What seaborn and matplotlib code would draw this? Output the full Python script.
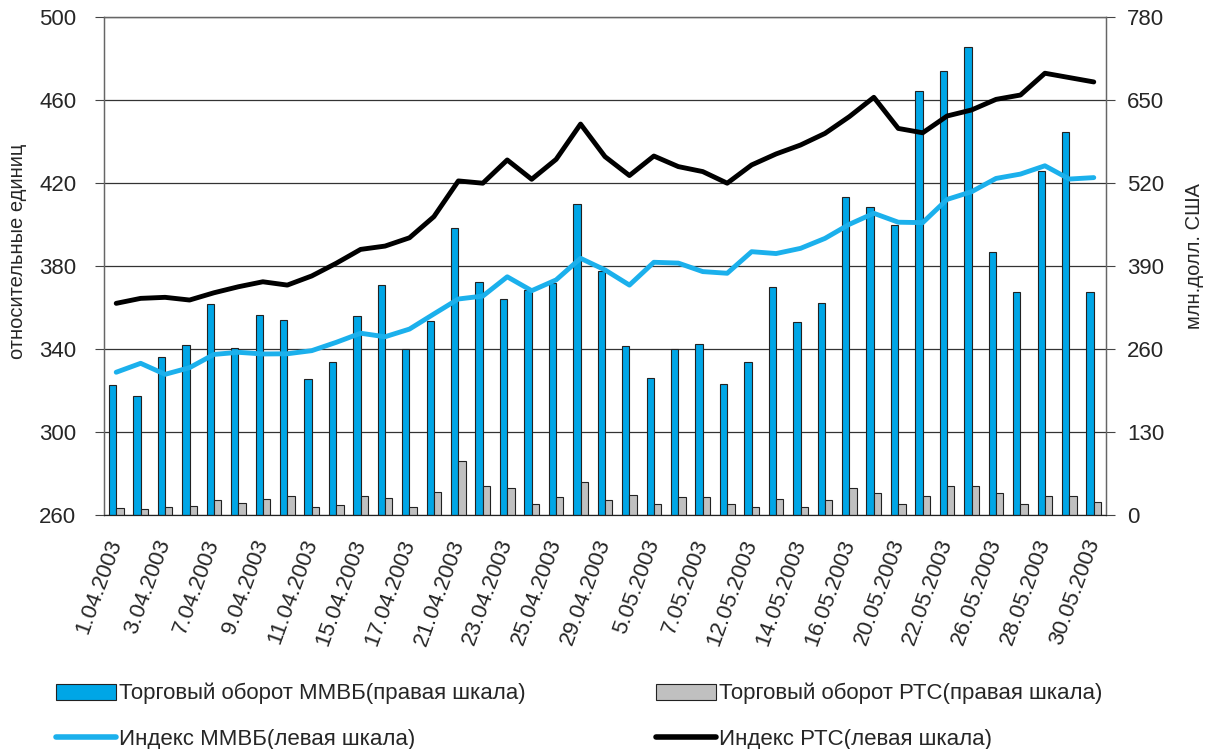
import numpy as np
import pandas as pd
import matplotlib
matplotlib.use("Agg")
import matplotlib.pyplot as plt
import seaborn as sns
from matplotlib.patches import Patch
from matplotlib.lines import Line2D

# trading days, April-May 2003
dates = ["1.04.2003", "2.04.2003", "3.04.2003", "4.04.2003", "7.04.2003", "8.04.2003",
         "9.04.2003", "10.04.2003", "11.04.2003", "14.04.2003", "15.04.2003", "16.04.2003",
         "17.04.2003", "18.04.2003", "21.04.2003", "22.04.2003", "23.04.2003", "24.04.2003",
         "25.04.2003", "28.04.2003", "29.04.2003", "30.04.2003", "5.05.2003", "6.05.2003",
         "7.05.2003", "8.05.2003", "12.05.2003", "13.05.2003", "14.05.2003", "15.05.2003",
         "16.05.2003", "19.05.2003", "20.05.2003", "21.05.2003", "22.05.2003", "23.05.2003",
         "26.05.2003", "27.05.2003", "28.05.2003", "29.05.2003", "30.05.2003"]

# turnover, mln USD (right scale)
micex_turnover = [203, 186, 248, 267, 331, 262, 314, 306, 213, 240, 312, 361, 260, 304,
                  449, 365, 338, 352, 363, 487, 382, 265, 215, 260, 268, 205, 240, 357,
                  302, 332, 498, 482, 454, 664, 695, 733, 412, 349, 539, 600, 349]
rts_turnover = [11, 10, 12, 14, 23, 19, 25, 30, 12, 16, 30, 27, 12, 36,
                84, 45, 42, 18, 28, 51, 24, 31, 17, 28, 28, 17, 13, 25,
                12, 24, 43, 34, 17, 29, 46, 45, 34, 17, 29, 29, 20]

# indices, relative units (left scale)
micex_index = [328.8, 333.1, 327.8, 331.0, 337.4, 338.4, 337.6, 337.7, 339.2, 343.2, 347.6,
               345.9, 349.6, 356.9, 364.1, 365.5, 374.8, 368.1, 373.3, 383.7, 378.1, 370.8,
               381.8, 381.4, 377.3, 376.5, 386.9, 386.0, 388.5, 393.3, 400.1, 405.4, 401.1,
               400.9, 412.1, 415.8, 422.2, 424.3, 428.3, 421.9, 422.6]
rts_index = [362.0, 364.4, 364.9, 363.6, 367.1, 370.0, 372.4, 370.8, 375.2, 381.3, 388.0,
             389.6, 393.6, 403.8, 421.0, 419.9, 431.1, 421.8, 431.4, 448.4, 432.7, 423.6,
             433.0, 427.9, 425.5, 419.9, 428.7, 434.0, 438.3, 443.9, 452.0, 461.3, 446.3,
             444.2, 452.3, 455.2, 460.3, 462.4, 472.9, 470.8, 468.7]

left_ticks = [260, 300, 340, 380, 420, 460, 500]
right_ticks = [0, 130, 260, 390, 520, 650, 780]

lbl_micex_bar = "Торговый оборот ММВБ(правая шкала)"
lbl_rts_bar = "Торговый оборот РТС(правая шкала)"
lbl_micex_line = "Индекс ММВБ(левая шкала)"
lbl_rts_line = "Индекс РТС(левая шкала)"

BAR_BLUE = "#00a6e6"
BAR_GRAY = "#c0c0c0"
LINE_BLUE = "#1bb0ec"
LINE_BLACK = "#000000"

sns.set_style("white")
plt.rcParams["font.family"] = ["Liberation Sans", "DejaVu Sans"]

n = len(dates)
bars = pd.DataFrame({
    "date": dates * 2,
    "turnover": micex_turnover + rts_turnover,
    "series": [lbl_micex_bar] * n + [lbl_rts_bar] * n,
})
lines = pd.DataFrame({
    "pos": list(range(n)) * 2,
    "value": micex_index + rts_index,
    "series": [lbl_micex_line] * n + [lbl_rts_line] * n,
})

fig = plt.figure(figsize=(12.05, 7.49), dpi=100)
ax_bar = fig.add_axes([104 / 1205, 1 - 515 / 749, (1106 - 104) / 1205, (515 - 17) / 749])

sns.barplot(data=bars, x="date", y="turnover", hue="series", order=dates,
            palette=[BAR_BLUE, BAR_GRAY], saturation=1, width=0.6, gap=0,
            edgecolor="#222222", linewidth=0.8, errorbar=None, legend=False, ax=ax_bar)

ax_line = ax_bar.twinx()
sns.lineplot(data=lines, x="pos", y="value", hue="series",
             palette=[LINE_BLUE, LINE_BLACK], linewidth=3.5, legend=False, ax=ax_line)

# bars on the right scale, lines on the left scale
ax_bar.yaxis.tick_right()
ax_bar.yaxis.set_label_position("right")
ax_line.yaxis.tick_left()
ax_line.yaxis.set_label_position("left")

ax_bar.set_ylim(0, 780)
ax_bar.set_yticks(right_ticks)
ax_line.set_ylim(260, 500)
ax_line.set_yticks(left_ticks)
ax_bar.set_xlim(-0.5, n - 0.5)

ax_bar.grid(axis="y", color="#333333", linewidth=0.9)
ax_bar.set_axisbelow(True)

ax_bar.set_xticks(range(0, n, 2))
ax_bar.set_xticklabels(dates[::2], rotation=70, ha="right", va="center",
                       rotation_mode="anchor", fontsize=16)
ax_bar.set_xticks(np.arange(-0.5, n, 1), minor=True)
ax_bar.tick_params(axis="x", which="major", length=0, pad=18)
ax_bar.tick_params(axis="x", which="minor", length=6, width=0.8, direction="out", color="#444444")
ax_bar.tick_params(axis="y", length=6.5, width=0.8, direction="out", color="#444444",
                   labelsize=16, pad=8.5)
ax_line.tick_params(axis="y", length=6.5, width=0.8, direction="out", color="#444444",
                    labelsize=16, pad=13.5)

ax_bar.set_xlabel("")
ax_bar.set_ylabel("млн.долл. США", fontsize=14.5)
ax_line.set_ylabel("относительные единиц", fontsize=14.5)
ax_line.yaxis.set_label_coords(-0.077, 0.53)
ax_bar.yaxis.set_label_coords(1.0785, 0.52)

for ax in (ax_bar, ax_line):
    for side in ("left", "right", "top"):
        ax.spines[side].set_color("#666666")
        ax.spines[side].set_linewidth(0.9)
    ax.spines["bottom"].set_color("#222222")

handles = [
    Patch(facecolor=BAR_BLUE, edgecolor="#222222", linewidth=0.8),
    Line2D([], [], color=LINE_BLUE, linewidth=4),
    Patch(facecolor=BAR_GRAY, edgecolor="#222222", linewidth=0.8),
    Line2D([], [], color=LINE_BLACK, linewidth=4),
]
labels = [lbl_micex_bar, lbl_micex_line, lbl_rts_bar, lbl_rts_line]
fig.legend(handles, labels, ncol=2, loc="upper left", frameon=False,
           bbox_to_anchor=(56 / 1205, 1 - 683 / 749), fontsize=16,
           handlelength=2.7, handleheight=0.75, handletextpad=0.15,
           columnspacing=5.85, labelspacing=1.1, borderaxespad=0, borderpad=0)

fig.savefig("out.png", dpi=100)
